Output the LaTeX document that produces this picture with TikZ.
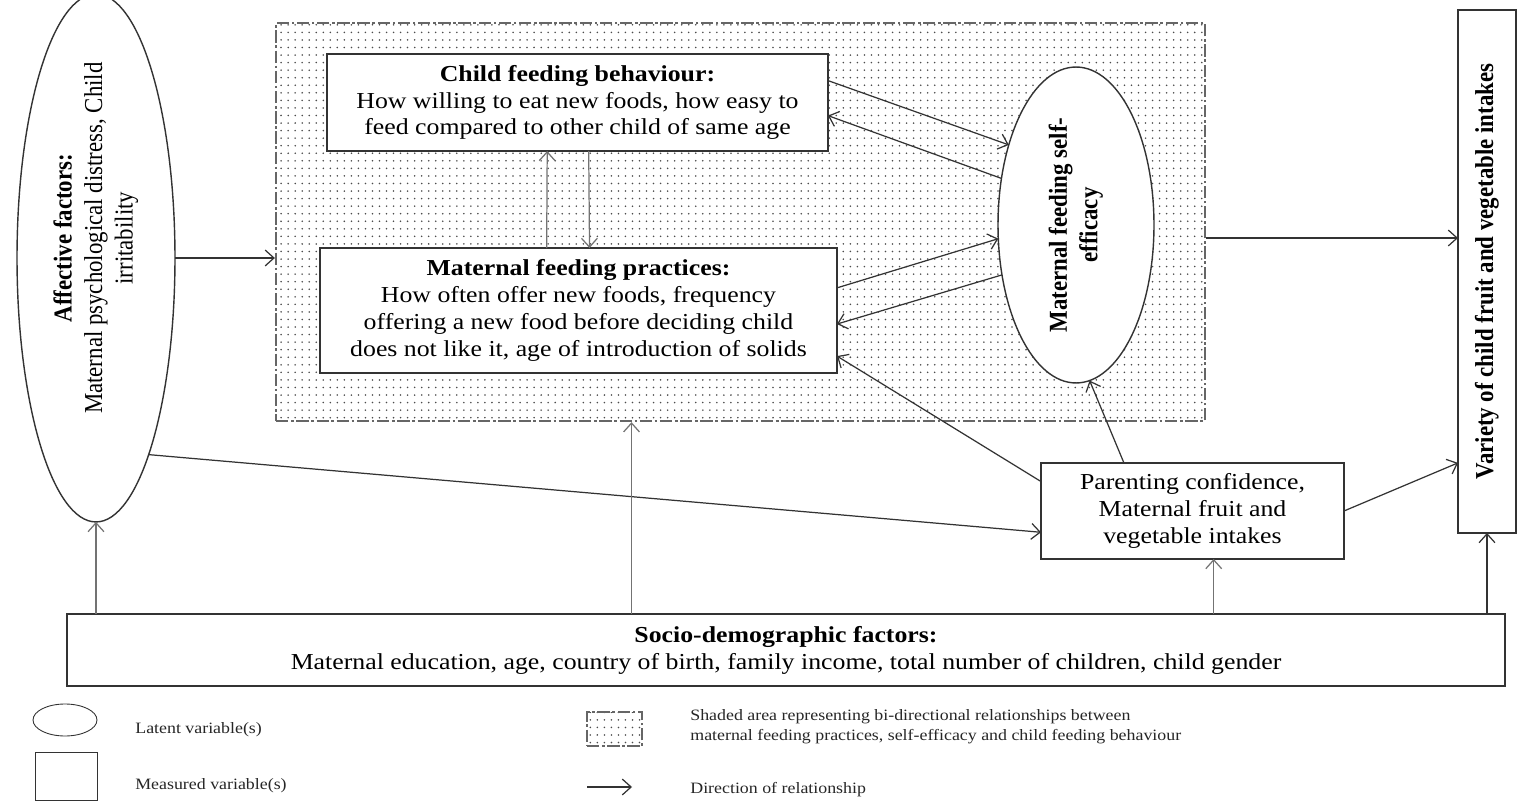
\documentclass[tikz,border=0pt]{standalone}
\usepackage{fontspec}
\setmainfont{Liberation Serif}[FakeStretch=1.13]
\newfontfamily\vfont{Liberation Serif}[FakeStretch=0.885]
\usetikzlibrary{shapes.geometric,arrows.meta,calc,patterns.meta}

\tikzdeclarepattern{
  name=fdots,
  type=uncolored,
  bounding box={(-2pt,-2pt) and (2pt,2pt)},
  tile size={(4pt,4.3pt)},
  code={\fill (0pt,0pt) circle (0.5pt);}
}

% vertical text inside a shape, optional shift along the text
\newcommand{\vtext}[2][0pt]{\rotatebox{90}{\vfont\fontsize{14.7}{17.4}\selectfont\hspace*{#1}\begin{tabular}{@{}c@{}}#2\end{tabular}\hspace*{-#1}}}

\begin{document}
\begin{tikzpicture}[x=0.02cm,y=-0.02cm,
  box/.style={draw=black!80,line width=0.9pt,fill=white,align=center,inner sep=0pt,outer sep=0pt,font=\fontsize{13}{15.3}\selectfont},
  latent/.style={ellipse,draw=black!80,line width=0.8pt,fill=white,inner sep=0pt,outer sep=0pt},
  rel/.style={-{Straight Barb[length=5pt,width=9pt]},line width=0.7pt,black!80},
  relg/.style={rel,black!55},
  zone/.style={pattern=fdots,pattern color=black!70,draw=black!60,line width=1.4pt,dash pattern=on 7pt off 1.5pt on 1.5pt off 1.5pt},
  key/.style={font=\fontsize{9}{11.5}\selectfont,text=black!85,anchor=west,inner sep=0pt,align=left}]

\useasboundingbox[fill=white] (0,0) rectangle (1521,803);

% shaded area
\node[zone,minimum width=18.58cm,minimum height=7.96cm] (shade) at (740.5,222) {};

\node[box,minimum width=10.02cm,minimum height=1.94cm] (cfb) at (577.5,102.5) {\textbf{Child feeding behaviour:}\\How willing to eat new foods, how easy to\\feed compared to other child of same age};
\node[box,minimum width=10.34cm,minimum height=2.5cm] (mfp) at (578.5,310.5) {\textbf{Maternal feeding practices:}\\How often offer new foods, frequency\\offering a new food before deciding child\\does not like it, age of introduction of solids};
\node[latent,minimum width=3.12cm,minimum height=6.32cm] (mfse) at (1076,225) {\vtext{\textbf{Maternal feeding self-}\\\textbf{efficacy}}};
\node[latent,minimum width=3.16cm,minimum height=10.56cm] (aff) at (96,258) {\vtext[11.3pt]{\textbf{Affective factors:}\\Maternal psychological distress, Child\\irritability}};
\node[box,minimum width=6.06cm,minimum height=1.92cm] (pc) at (1192.5,511) {Parenting confidence,\\Maternal fruit and\\vegetable intakes};
\node[box,minimum width=1.16cm,minimum height=10.46cm] (var) at (1487,271.5) {\vtext{\textbf{Variety of child fruit and vegetable intakes}}};
\node[box,minimum width=28.76cm,minimum height=1.44cm] (socio) at (786,650) {\textbf{Socio-demographic factors:}\\Maternal education, age, country of birth, family income, total number of children, child gender};

\coordinate (shin) at ($(shade.south west)!.383!(shade.south east)$);
\coordinate (pcin) at ($(pc.south west)!.57!(pc.south east)$);
\coordinate (varin) at ($(shade.north east)!.54!(shade.south east)$);

\path[rel]
  (aff.east) edge (aff.east -| shade.west)
  (aff.-75) edge (pc.188)
  (cfb.5) edge (mfse.130)
  (mfse.148) edge (cfb.-3)
  (mfp.5) edge (mfse.190)
  (mfse.214) edge (mfp.-3)
  (pc.169) edge (mfp.-10)
  (pc.145) edge (mfse.-85)
  (pc.east) edge ($(var.south west)!.134!(var.north west)$)
  (varin) edge (varin -| var.west)
  (socio.north -| var.south) edge (var.south);
\path[relg]
  (mfp.117) edge (cfb.-122)
  (cfb.-77) edge (mfp.80)
  (socio.north -| aff.south) edge (aff.south)
  (socio.north -| shin) edge (shin)
  (socio.north -| pcin) edge (pcin);

% legend
\node[latent,line width=0.5pt,minimum width=1.28cm,minimum height=0.64cm] (k_lat) at (65,720) {};
\node[key] (t_lat) at (135,730) {Latent variable(s)};
\node[box,line width=0.5pt,minimum width=1.24cm,minimum height=0.96cm] (k_mea) at (66,776) {};
\node[key] (t_mea) at (135,786) {Measured variable(s)};
\node[zone,line width=0.8pt,minimum width=1.1cm,minimum height=0.68cm] (k_sha) at (614.5,729) {};
\node[key] (t_sha) at (690,727) {Shaded area representing bi-directional relationships between\\maternal feeding practices, self-efficacy and child feeding behaviour};
\coordinate (k_a) at (587,787);
\coordinate (k_b) at (632,787);
\draw[rel] (k_a) -- (k_b);
\node[key] (t_dir) at (690,790) {Direction of relationship};
\end{tikzpicture}
\end{document}
